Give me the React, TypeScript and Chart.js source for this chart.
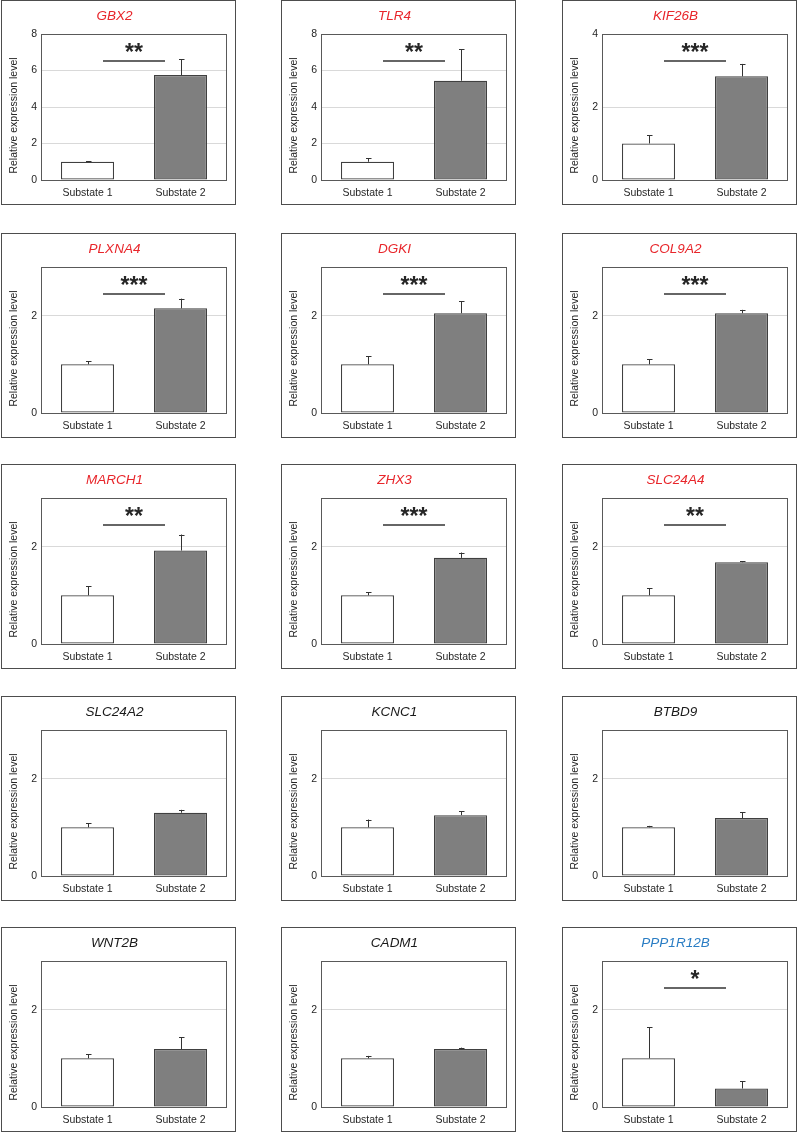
import React, { useEffect, useRef } from 'react';
import { Chart, registerables } from 'chart.js';

Chart.register(...registerables);

const categories = ['Substate 1', 'Substate 2'];
const genes = ['GBX2', 'TLR4', 'KIF26B', 'PLXNA4', 'DGKI', 'COL9A2', 'MARCH1', 'ZHX3', 'SLC24A4', 'SLC24A2', 'KCNC1', 'BTBD9', 'WNT2B', 'CADM1', 'PPP1R12B'];
const regulation = ['up', 'up', 'up', 'up', 'up', 'up', 'up', 'up', 'up', 'ns', 'ns', 'ns', 'ns', 'ns', 'down'];
const substate1Mean = [1, 1, 1, 1, 1, 1, 1, 1, 1, 1, 1, 1, 1, 1, 1];
const substate1Err = [0.02, 0.2, 0.22, 0.06, 0.17, 0.1, 0.19, 0.06, 0.15, 0.08, 0.16, 0.03, 0.08, 0.05, 0.64];
const substate2Mean = [5.75, 5.44, 2.84, 2.15, 2.05, 2.05, 1.92, 1.77, 1.68, 1.3, 1.25, 1.19, 1.19, 1.19, 0.38];
const substate2Err = [0.88, 1.72, 0.34, 0.2, 0.25, 0.07, 0.33, 0.11, 0.02, 0.06, 0.08, 0.12, 0.24, 0.03, 0.15];
const significance = ['**', '**', '***', '***', '***', '***', '**', '***', '**', '', '', '', '', '', '*'];
const yMax = [8, 8, 4, 3, 3, 3, 3, 3, 3, 3, 3, 3, 3, 3, 3];
const yTickValues = [
  [0, 2, 4, 6, 8], [0, 2, 4, 6, 8], [0, 2, 4],
  [0, 2], [0, 2], [0, 2],
  [0, 2], [0, 2], [0, 2],
  [0, 2], [0, 2], [0, 2],
  [0, 2], [0, 2], [0, 2],
];
const yAxisTitle = 'Relative expression level';

const FONT = '"Liberation Sans", Arial, sans-serif';
const titleColors: Record<string, string> = { up: '#e8262b', ns: '#1a1a1a', down: '#2a7dc4' };
const colLefts = [1, 281, 562];
const rowTops = [0, 233, 464, 696, 927];
const PANEL_W = 235;
const PANEL_H = 205;

function Panel({ index }: { index: number }) {
  const ref = useRef<HTMLCanvasElement>(null);
  useEffect(() => {
    const canvas = ref.current;
    if (!canvas) return;
    const means = [substate1Mean[index], substate2Mean[index]];
    const errs = [substate1Err[index], substate2Err[index]];
    const max = yMax[index];
    const extras = {
      id: 'extras' + index,
      beforeDatasetsDraw(chart: any) {
        const { ctx, chartArea } = chart;
        ctx.save();
        ctx.strokeStyle = '#595959';
        ctx.lineWidth = 1;
        ctx.strokeRect(chartArea.left + 0.5, chartArea.top + 0.5, chartArea.right - chartArea.left - 1, chartArea.bottom - chartArea.top);
        ctx.restore();
      },
      afterDatasetsDraw(chart: any) {
        const { ctx, chartArea } = chart;
        const yScale = chart.scales.y;
        const meta = chart.getDatasetMeta(0);
        ctx.save();
        ctx.strokeStyle = '#333333';
        ctx.lineWidth = 1;
        meta.data.forEach((el: any, i: number) => {
          const x = Math.round(el.x) + 0.5;
          const yTop = yScale.getPixelForValue(means[i] + errs[i]);
          const yBase = yScale.getPixelForValue(means[i]);
          ctx.beginPath();
          ctx.moveTo(x, yBase);
          ctx.lineTo(x, yTop);
          ctx.moveTo(x - 2.5, Math.round(yTop) + 0.5);
          ctx.lineTo(x + 3, Math.round(yTop) + 0.5);
          ctx.stroke();
        });
        const sig = significance[index];
        if (sig) {
          const w = chartArea.right - chartArea.left;
          const x1 = chartArea.left + w / 3;
          const x2 = chartArea.left + (2 * w) / 3;
          const ly = chartArea.top + 27;
          ctx.lineWidth = 1.5;
          ctx.strokeStyle = '#333333';
          ctx.beginPath();
          ctx.moveTo(x1, ly);
          ctx.lineTo(x2, ly);
          ctx.stroke();
          ctx.fillStyle = '#262626';
          ctx.font = 'bold 23px ' + FONT;
          ctx.textAlign = 'center';
          ctx.textBaseline = 'alphabetic';
          ctx.fillText(sig, (x1 + x2) / 2, chartArea.top + 26);
        }
        ctx.restore();
      },
      afterDraw(chart: any) {
        const { ctx, chartArea } = chart;
        ctx.save();
        ctx.translate(12, (chartArea.top + chartArea.bottom) / 2 + 8.5);
        ctx.rotate(-Math.PI / 2);
        ctx.fillStyle = '#262626';
        ctx.font = '10.5px ' + FONT;
        ctx.textAlign = 'center';
        ctx.textBaseline = 'middle';
        ctx.fillText(yAxisTitle, 0, 0);
        ctx.restore();
      },
    };
    const chart = new Chart(canvas, {
      type: 'bar',
      data: {
        labels: categories,
        datasets: [
          {
            data: means,
            backgroundColor: ['#ffffff', '#7f7f7f'],
            borderColor: '#404040',
            borderWidth: 1.2,
            borderSkipped: false,
            categoryPercentage: 1,
            barPercentage: 0.57,
          },
        ],
      },
      options: {
        animation: false,
        responsive: false,
        devicePixelRatio: 1,
        layout: { padding: { left: 0, right: 8, top: 0, bottom: 0 } },
        plugins: {
          legend: { display: false },
          tooltip: { enabled: false },
          title: {
            display: true,
            text: genes[index],
            color: titleColors[regulation[index]],
            font: { family: FONT, size: 13.5, style: 'italic', weight: 'normal' },
            padding: { top: 7.5, bottom: 9.3 },
          },
        },
        scales: {
          x: {
            grid: { display: false, drawTicks: false },
            border: { display: false },
            ticks: { font: { family: FONT, size: 10.5 }, color: '#262626', padding: 7 },
            afterFit: (s: any) => {
              s.height = 24;
            },
          },
          y: {
            min: 0,
            max: max,
            afterBuildTicks: (s: any) => {
              s.ticks = yTickValues[index].map((v) => ({ value: v }));
            },
            grid: {
              drawTicks: false,
              color: (c: any) => (c.tick && (c.tick.value === 0 || c.tick.value === max) ? 'rgba(0,0,0,0)' : '#d9d9d9'),
            },
            border: { display: false },
            ticks: { font: { family: FONT, size: 10.5 }, color: '#262626', padding: 4 },
            afterFit: (s: any) => {
              s.width = 39;
            },
          },
        },
      },
      plugins: [extras],
    } as any);
    return () => chart.destroy();
  }, [index]);

  const left = colLefts[index % 3];
  const top = rowTops[Math.floor(index / 3)];
  return (
    <div
      style={{
        position: 'absolute',
        left,
        top,
        width: PANEL_W,
        height: PANEL_H,
        border: '1px solid #4d4d4d',
        boxSizing: 'border-box',
        background: '#ffffff',
      }}
    >
      <canvas ref={ref} width={PANEL_W - 2} height={PANEL_H - 2} style={{ display: 'block' }} />
    </div>
  );
}

export default function App() {
  return (
    <div style={{ position: 'absolute', left: 0, top: 0, width: 797, height: 1132, background: '#ffffff' }}>
      {genes.map((g, i) => (
        <Panel key={g} index={i} />
      ))}
    </div>
  );
}
